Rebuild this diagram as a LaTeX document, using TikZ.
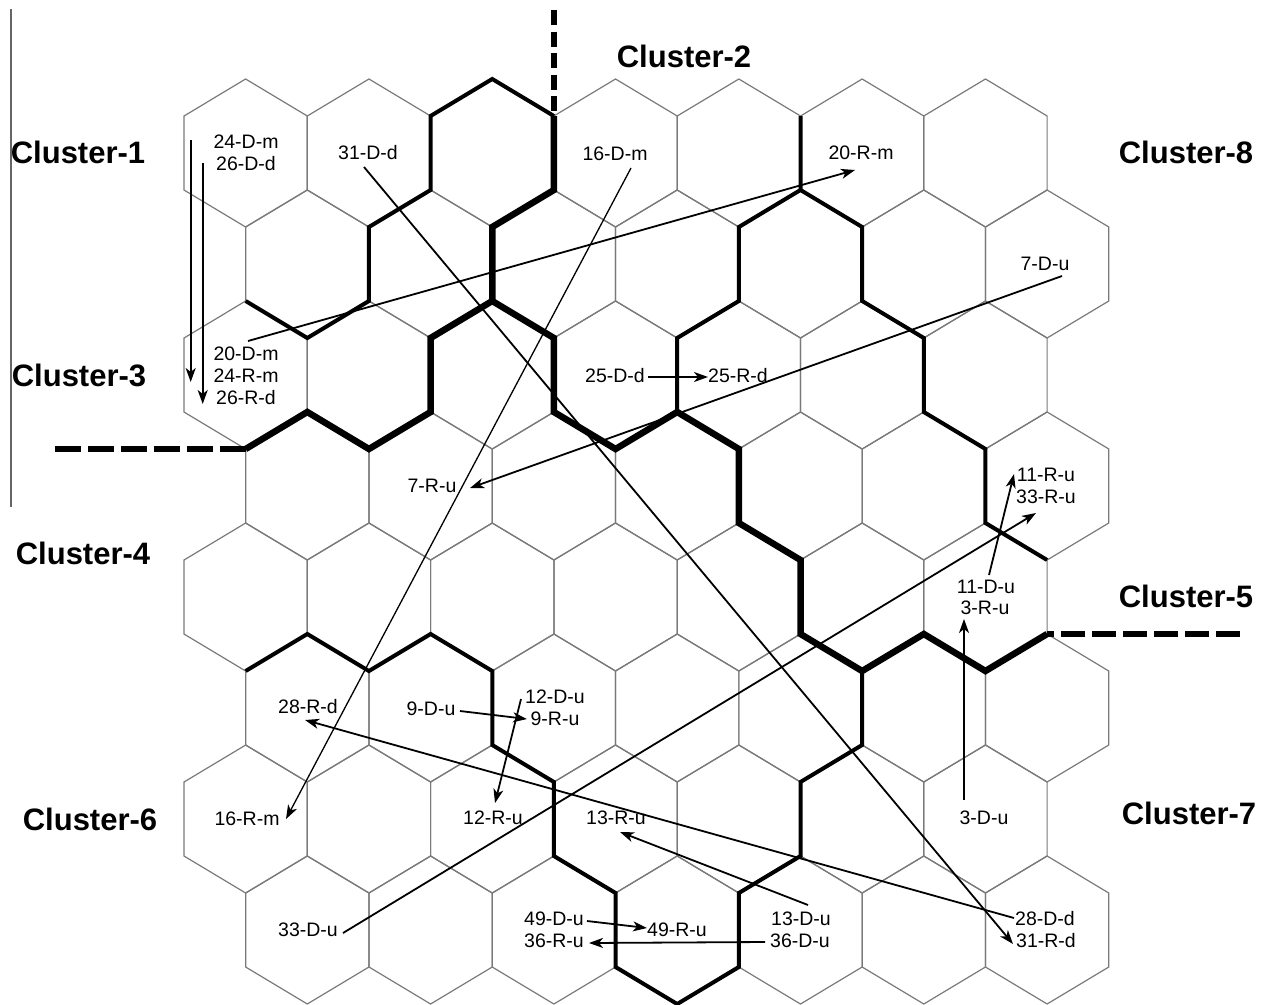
\documentclass[tikz,border=0pt]{standalone}
\usepackage{fontspec}
\setmainfont{Liberation Sans}
\usetikzlibrary{arrows.meta}
\begin{document}
\begin{tikzpicture}[x=1pt, y=-1pt,
  hexline/.style={draw=black!52, line width=1.2pt},
  edgeline/.style={draw=black!60, line width=1.2pt},
  bound/.style={draw=black, line width=4pt},
  heavybound/.style={draw=black, line width=6.5pt},
  dashbound/.style={draw=black, line width=6pt},
  link/.style={draw=black, line width=1.8pt, -{Stealth[length=14pt,width=10pt,inset=4pt]}},
  thinlink/.style={link, line width=1.3pt},
  lbl/.style={inner sep=0pt, font=\fontsize{19.5}{22}\selectfont},
  cluster/.style={inner sep=0pt, font=\fontsize{31}{36}\selectfont\bfseries}]
\useasboundingbox (0,0) rectangle (1266,1004);
\fill[white] (0,0) rectangle (1266,1004);

% thin rule on the left
\draw[edgeline] (11,9) -- (11,507);

% hexagonal lattice: unit m = half a cell width, unit n = 37 px
\begin{scope}[shift={(184,79)}, x=61.65pt, y=-37pt]
  \foreach \r in {0,...,7}{
    \foreach \c in {0,...,6}{
      \pgfmathtruncatemacro{\m}{1+2*\c+mod(\r,2)}
      \pgfmathtruncatemacro{\n}{2+3*\r}
      \draw[hexline] (\m,\n-2) -- (\m+1,\n-1) -- (\m+1,\n+1) -- (\m,\n+2)
        -- (\m-1,\n+1) -- (\m-1,\n-1) -- cycle;
    }
  }
  % cluster borders
  \draw[bound] (6,1) -- (5,0) -- (4,1) -- (4,3) -- (3,4) -- (3,6) -- (2,7) -- (1,6);
  \draw[heavybound] (6,1) -- (6,3) -- (5,4) -- (5,6) -- (4,7) -- (4,9) -- (3,10) -- (2,9) -- (1,10);
  \draw[heavybound] (5,6) -- (6,7) -- (6,9) -- (7,10) -- (8,9) -- (9,10) -- (9,12)
    -- (10,13) -- (10,15) -- (11,16) -- (12,15) -- (13,16) -- (14,15);
  \draw[bound] (10,1) -- (10,3) -- (11,4) -- (11,6) -- (12,7) -- (12,9) -- (13,10) -- (13,12) -- (14,13);
  \draw[bound] (10,3) -- (9,4) -- (9,6) -- (8,7) -- (8,9);
  \draw[bound] (1,16) -- (2,15) -- (3,16) -- (4,15) -- (5,16) -- (5,18) -- (6,19) -- (6,21)
    -- (7,22) -- (7,24) -- (8,25) -- (9,24) -- (9,22) -- (10,21) -- (10,19) -- (11,18) -- (11,16);
\end{scope}

% dashed extensions of the borders
\draw[dashbound, dash pattern=on 15pt off 6.5pt] (553.9,10) -- (553.9,116);
\draw[dashbound, dash pattern=on 26pt off 7pt] (55,449) -- (245.65,449);
\draw[dashbound, dash pattern=on 24pt off 7pt] (1240,634) -- (1047.1,634);

% cluster names
\node[cluster] (c1) at (78,152) {Cluster-1};
\node[cluster] (c2) at (684,56) {Cluster-2};
\node[cluster] (c3) at (79,375) {Cluster-3};
\node[cluster] (c4) at (83,553) {Cluster-4};
\node[cluster] (c5) at (1186,596) {Cluster-5};
\node[cluster] (c6) at (90,819) {Cluster-6};
\node[cluster] (c7) at (1189,813) {Cluster-7};
\node[cluster] (c8) at (1186,152) {Cluster-8};

% cell labels
\node[lbl] (l24Dm) at (246,142) {24-D-m};
\node[lbl] (l26Dd) at (246,164) {26-D-d};
\node[lbl] (l31Dd) at (368,153) {31-D-d};
\node[lbl] (l16Dm) at (615,154) {16-D-m};
\node[lbl] (l20Rm) at (861,153) {20-R-m};
\node[lbl] (l7Du) at (1045,264) {7-D-u};
\node[lbl] (l20Dm) at (246,354) {20-D-m};
\node[lbl] (l24Rm) at (246,376) {24-R-m};
\node[lbl] (l26Rd) at (246,398) {26-R-d};
\node[lbl] (l25Dd) at (615,376) {25-D-d};
\node[lbl] (l25Rd) at (738,376) {25-R-d};
\node[lbl] (l7Ru) at (432,486) {7-R-u};
\node[lbl] (l11Ru) at (1046,475) {11-R-u};
\node[lbl] (l33Ru) at (1046,497) {33-R-u};
\node[lbl] (l11Du) at (986,587) {11-D-u};
\node[lbl] (l3Ru) at (985,608) {3-R-u};
\node[lbl] (l28Rd) at (308,707) {28-R-d};
\node[lbl] (l9Du) at (431,709) {9-D-u};
\node[lbl] (l12Du) at (555,697) {12-D-u};
\node[lbl] (l9Ru) at (555,719) {9-R-u};
\node[lbl] (l16Rm) at (247,819) {16-R-m};
\node[lbl] (l12Ru) at (493,818) {12-R-u};
\node[lbl] (l13Ru) at (616,818) {13-R-u};
\node[lbl] (l3Du) at (984,818) {3-D-u};
\node[lbl] (l33Du) at (308,930) {33-D-u};
\node[lbl] (l49Du) at (554,919) {49-D-u};
\node[lbl] (l36Ru) at (554,941) {36-R-u};
\node[lbl] (l49Ru) at (677,930) {49-R-u};
\node[lbl] (l13Du) at (801,919) {13-D-u};
\node[lbl] (l36Du) at (800,941) {36-D-u};
\node[lbl] (l28Dd) at (1045,919) {28-D-d};
\node[lbl] (l31Rd) at (1046,941) {31-R-d};

% ends of the moves
\coordinate (t24) at (190.7,140);  \coordinate (h24) at (190.7,382);
\coordinate (t26) at (202.7,163);  \coordinate (h26) at (202.7,404);
\coordinate (t20) at (248,341);    \coordinate (h20) at (855,170);
\coordinate (t31) at (364,167);    \coordinate (h31) at (1013,944);
\coordinate (t16) at (631,168);    \coordinate (h16) at (286,819);
\coordinate (t7)  at (1062,276);   \coordinate (h7)  at (470,488);
\coordinate (t25) at (648,377);    \coordinate (h25) at (708,377);
\coordinate (t11) at (989,575);    \coordinate (h11) at (1014,474);
\coordinate (t33) at (343,933);    \coordinate (h33) at (1036,513);
\coordinate (t3)  at (964,800);    \coordinate (h3)  at (964,619);
\coordinate (t28) at (1014,918);   \coordinate (h28) at (305,720);
\coordinate (t9)  at (460,711);    \coordinate (h9)  at (527,719);
\coordinate (t12) at (521,699);    \coordinate (h12) at (495,803);
\coordinate (t13) at (808,905);    \coordinate (h13) at (620,832);
\coordinate (t49) at (587,921);    \coordinate (h49) at (647,928);
\coordinate (t36) at (765,942);    \coordinate (h36) at (589,943);

% moves between cells
\draw[link] (t24) -- (h24);
\draw[link] (t26) -- (h26);
\draw[link] (t20) -- (h20);
\draw[link] (t31) -- (h31);
\draw[thinlink] (t16) -- (h16);
\draw[link] (t7) -- (h7);
\draw[link] (t25) -- (h25);
\draw[link] (t11) -- (h11);
\draw[link] (t33) -- (h33);
\draw[link] (t3) -- (h3);
\draw[link] (t28) -- (h28);
\draw[link] (t9) -- (h9);
\draw[link] (t12) -- (h12);
\draw[link] (t13) -- (h13);
\draw[link] (t49) -- (h49);
\draw[link] (t36) -- (h36);
\end{tikzpicture}
\end{document}
